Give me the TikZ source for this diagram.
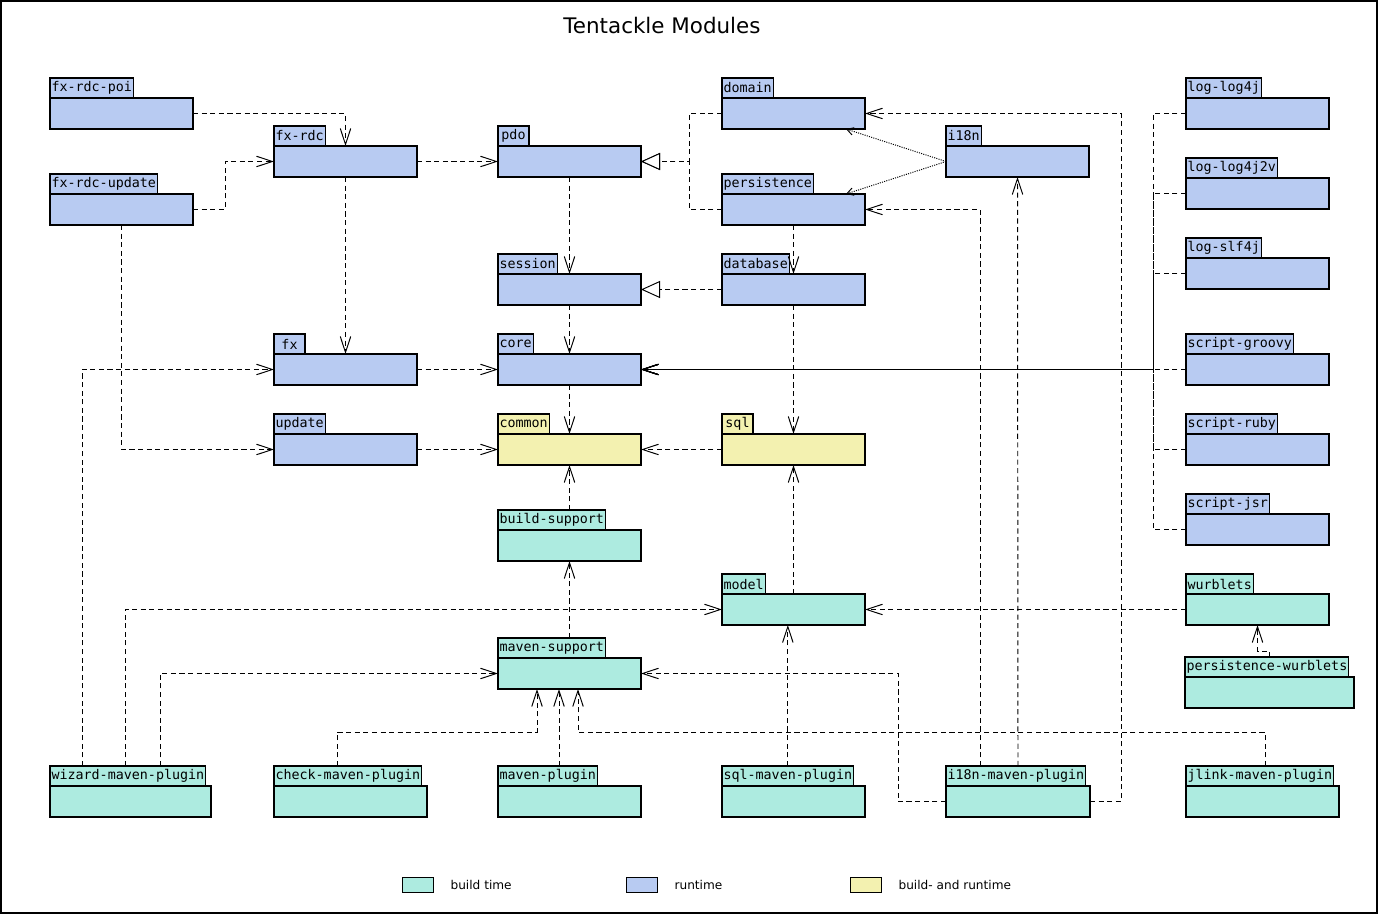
\documentclass[tikz,border=0pt]{standalone}
\usepackage{fontspec}
\setmainfont{DejaVu Sans}
\newfontfamily\pkgmono{DejaVu Sans Mono}
\usetikzlibrary{arrows.meta,positioning}
\definecolor{sky}{RGB}{184,203,242}
\definecolor{mint}{RGB}{173,235,224}
\definecolor{sand}{RGB}{243,241,176}
\tikzset{
  >={Straight Barb[length=3.2mm,width=2.1mm]},
  pkg/.style={draw,fill=#1,line width=0.7pt,outer sep=0pt,inner sep=0pt,
    minimum height=6.2mm},
  pkg/.default=sky,
  pkgtab/.style={draw,fill=#1,line width=0.7pt,outer sep=0pt,inner xsep=0.3mm,
    inner ysep=0pt,minimum height=4mm,minimum width=6.2mm,
    font=\pkgmono\fontsize{7.6}{9}\selectfont},
  pkgtab/.default=sky,
  dep/.style={->,line width=0.55pt,dash pattern=on 2.9pt off 2pt},
  gen/.style={dep,-{Triangle[open,fill=white,length=3.8mm,width=3.4mm]}},
  dotuse/.style={-{Straight Barb[length=1.3mm,width=1.5mm]},line width=0.55pt,
    dash pattern=on 0.6pt off 0.7pt},
  legbox/.style={draw,fill=#1,line width=0.7pt,minimum width=6.2mm,
    minimum height=3mm,inner sep=0pt},
  legtext/.style={font=\fontsize{6.9}{8}\selectfont,inner sep=0pt},
}
\begin{document}
\begin{tikzpicture}[x=0.2mm,y=-0.2mm]
  \useasboundingbox (0,0) rectangle (1378,914);
  \draw[line width=0.6pt] (1,1) rectangle (1377,913);
  \node[font=\fontsize{12.2}{14}\selectfont] (title) at (662,26) {Tentackle Modules};
  % packages: name/label/x/y/colour/width
  \foreach \n/\t/\x/\y/\c/\w in {
    rdcpoi/fx-rdc-poi/50/98/sky/28.6, rdcupd/fx-rdc-update/50/194/sky/28.6,
    fxrdc/fx-rdc/274/146/sky/28.6, fx/fx/274/354/sky/28.6, update/update/274/434/sky/28.6,
    pdo/pdo/498/146/sky/28.6, session/session/498/274/sky/28.6, core/core/498/354/sky/28.6,
    common/common/498/434/sand/28.6, buildsup/build-support/498/530/mint/28.6,
    mavensup/maven-support/498/658/mint/28.6,
    domain/domain/722/98/sky/28.6, persist/persistence/722/194/sky/28.6,
    database/database/722/274/sky/28.6, sql/sql/722/434/sand/28.6, model/model/722/594/mint/28.6,
    i18n/i18n/946/146/sky/28.6,
    log4j/log-log4j/1186/98/sky/28.6, log4j2v/log-log4j2v/1186/178/sky/28.6,
    slf4j/log-slf4j/1186/258/sky/28.6, groovy/script-groovy/1186/354/sky/28.6,
    ruby/script-ruby/1186/434/sky/28.6, jsr/script-jsr/1186/514/sky/28.6,
    wurblets/wurblets/1186/594/mint/28.6, pwurb/persistence-wurblets/1185/677/mint/33.8,
    wizard/wizard-maven-plugin/50/786/mint/32.2, check/check-maven-plugin/274/786/mint/30.6,
    mvnplug/maven-plugin/498/786/mint/28.6, sqlplug/sql-maven-plugin/722/786/mint/28.6,
    i18nplug/i18n-maven-plugin/946/786/mint/28.8, jlink/jlink-maven-plugin/1186/786/mint/30.6}{
    \node[pkg=\c,minimum width=\w mm,anchor=north west] (\n) at (\x,\y) {};
    \node[pkgtab=\c,above right=0pt of \n.north west] (\n-tab) {\t};
  }
  \draw[dep] (rdcpoi.east) -| (fxrdc.north);
  \draw[dep] (rdcupd.east) -- ++(32,0) |- (fxrdc.west);
  \draw[dep] (rdcupd.south) |- (update.west);
  \draw[dep] (fxrdc.east) -- (pdo.west);
  \draw[dep] (fxrdc.south) -- (fx.north);
  \draw[dep] (fx.east) -- (core.west);
  \draw[dep] (update.east) -- (common.west);
  \draw[dep] (pdo.south) -- (session.north);
  \draw[dep] (session.south) -- (core.north);
  \draw[dep] (core.south) -- (common.north);
  \draw[gen] (domain.west) -- ++(-33,0) |- (pdo.east);
  \draw[gen] (persist.west) -- ++(-33,0) |- (pdo.east);
  \draw[gen] (database.west) -- (session.east);
  \draw[dotuse] (i18n.west) -- ([xshift=-3.8mm]domain.south east);
  \draw[dotuse] (i18n.west) -- ([xshift=-3.8mm]persist.north east);
  \draw[dep] (persist.south) -- (database.north);
  \draw[dep] (database.south) -- (sql.north);
  \draw[dep] (sql.west) -- (common.east);
  \draw[dep] (model.north) -- (sql.south);
  \draw[dep] (buildsup.north |- buildsup-tab.north) -- (common.south);
  \draw[dep] (mavensup.north |- mavensup-tab.north) -- (buildsup.south);
  \draw[dep] (wurblets.west) -- (model.east);
  \draw[dep] (pwurb.north |- pwurb-tab.north) -- ++(0,-6) -| (wurblets.south);
  \foreach \s in {log4j,log4j2v,slf4j,ruby,jsr}
    \draw[dep] (\s.west) -- ++(-33,0) |- (core.east);
  \draw[dep] (groovy.west) -- (core.east);
  % plugins
  \coordinate (wizfoota) at ([xshift=6.4mm]wizard-tab.north west);
  \coordinate (wizfootb) at ([xshift=15mm]wizard-tab.north west);
  \coordinate (wizfootc) at ([xshift=22mm]wizard-tab.north west);
  \coordinate (checkfoot) at ([xshift=12.6mm]check-tab.north west);
  \coordinate (mvnfoot) at ([xshift=12.2mm]mvnplug-tab.north west);
  \coordinate (i18nfoot) at ([xshift=6.8mm]i18nplug-tab.north west);
  \coordinate (jlinkfoot) at ([xshift=15.8mm]jlink-tab.north west);
  \draw[dep] (wizfoota) |- (fx.west);
  \draw[dep] (wizfootb) |- (model.west);
  \draw[dep] (wizfootc) |- (mavensup.west);
  \draw[dep] (checkfoot) -- ++(0,-34) -| ([xshift=-6.5mm]mavensup.south);
  \draw[dep] (mvnfoot) -- (mvnfoot |- mavensup.south);
  \draw[dep] (jlinkfoot) -- ++(0,-34) -| ([xshift=1.7mm]mavensup.south);
  \draw[dep] (sqlplug-tab.north) -- (sqlplug-tab.north |- model.south);
  \draw[dep] (i18nplug.west) -- ++(-48,0) |- (mavensup.east);
  \draw[dep] (i18nfoot) |- (persist.east);
  \draw[dep] (i18nplug.north |- i18nplug-tab.north) -- (i18n.south);
  \draw[dep] (i18nplug.east) -- ++(31,0) |- (domain.east);
  % legend
  \node[legbox=mint,anchor=north west] (legbt) at (402,877) {};
  \node[legtext,right=3.2mm of legbt] (legbttext) {build time};
  \node[legbox=sky,anchor=north west] (legrt) at (626,877) {};
  \node[legtext,right=3.2mm of legrt] (legrttext) {runtime};
  \node[legbox=sand,anchor=north west] (legbrt) at (850,877) {};
  \node[legtext,right=3.2mm of legbrt] (legbrttext) {build- and runtime};
\end{tikzpicture}
\end{document}
